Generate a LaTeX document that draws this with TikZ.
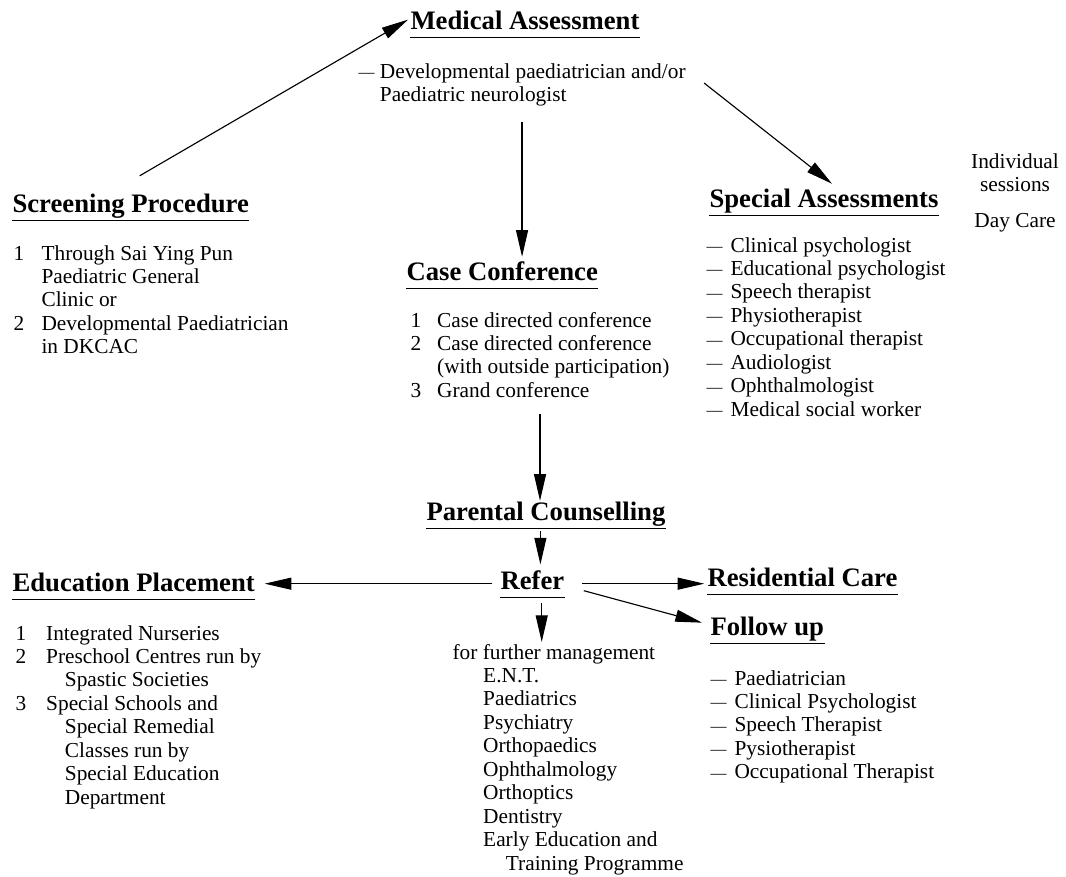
\documentclass[tikz,border=0pt]{standalone}
\usepackage{fontspec}
\setmainfont{Liberation Serif}
\usetikzlibrary{arrows.meta}

\newcommand{\ldash}{\raisebox{0.4pt}{\fontsize{12}{12}\selectfont —}}

\tikzset{
  heading/.style={font=\fontsize{20}{24}\selectfont\bfseries, inner sep=0pt,
    text height=14pt, text depth=6pt, anchor=base west},
  body/.style={font=\fontsize{16}{17.6}\selectfont, inner sep=0pt, anchor=base west},
  uline/.style={line width=1pt}
}

\begin{document}
\begin{tikzpicture}[x=0.75pt, y=-0.75pt, >={Triangle[length=20pt,width=9pt]}, line width=0.85pt]
\useasboundingbox (0,0) rectangle (1066,876);

% headings
\node[heading] (med) at (410, 29) {Medical Assessment};
\node[heading] (screen) at (12, 212) {Screening Procedure};
\node[heading] (spec) at (709, 207) {Special Assessments};
\node[heading] (case) at (406, 280) {Case Conference};
\node[heading] (parent) at (426, 520) {Parental Counselling};
\node[heading] (refer) at (500, 589) {Refer};
\node[heading] (edu) at (12, 591) {Education Placement};
\node[heading] (resid) at (707, 586) {Residential Care};
\node[heading] (follow) at (710, 635) {Follow up};

\draw[uline] (med.south west) -- (med.south east);
\draw[uline] (screen.south west) -- (screen.south east);
\draw[uline] (spec.south west) -- (spec.south east);
\draw[uline] (case.south west) -- (case.south east);
\draw[uline] (parent.south west) -- (parent.south east);
\draw[uline] (refer.south west) -- (refer.south east);
\draw[uline] (edu.south west) -- (edu.south east);
\draw[uline] (resid.south west) -- (resid.south east);
\draw[uline] (follow.south west) -- (follow.south east);

% texts under the headings
\node[body] (medbody) at (358, 78) {\begin{tabular}[t]{@{}l@{\hspace{4pt}}l@{}}
\ldash & Developmental paediatrician and/or\\
 & Paediatric neurologist
\end{tabular}};
\node[body] (screenlist) at (13, 260) {\begin{tabular}[t]{@{}l@{\hspace{13pt}}l@{}}
1 & Through Sai Ying Pun\\
 & Paediatric General\\
 & Clinic or\\
2 & Developmental Paediatrician\\
 & in DKCAC
\end{tabular}};
\node[body] (speclist) at (706, 252) {\begin{tabular}[t]{@{}l@{\hspace{6pt}}l@{}}
\ldash & Clinical psychologist\\
\ldash & Educational psychologist\\
\ldash & Speech therapist\\
\ldash & Physiotherapist\\
\ldash & Occupational therapist\\
\ldash & Audiologist\\
\ldash & Ophthalmologist\\
\ldash & Medical social worker
\end{tabular}};
\node[body, anchor=base] (indiv) at (1015, 168) {\begin{tabular}[t]{@{}c@{}}
Individual\\
sessions
\end{tabular}};
\node[body, anchor=base] (daycare) at (1015, 227) {Day Care};
\node[body] (caselist) at (410, 327) {\begin{tabular}[t]{@{}l@{\hspace{12pt}}l@{}}
1 & Case directed conference\\
2 & Case directed conference\\
 & (with outside participation)\\
3 & Grand conference
\end{tabular}};
\node[body] (edulist) at (15, 640) {\begin{tabular}[t]{@{}l@{\hspace{15pt}}l@{}}
1 & Integrated Nurseries\\
2 & Preschool Centres run by\\
 & \hspace{14pt}Spastic Societies\\
3 & Special Schools and\\
 & \hspace{14pt}Special Remedial\\
 & \hspace{14pt}Classes run by\\
 & \hspace{14pt}Special Education\\
 & \hspace{14pt}Department
\end{tabular}};
\node[body] (further) at (452, 659) {\begin{tabular}[t]{@{}l@{}}
for further management\\
\hspace{23pt}E.N.T.\\
\hspace{23pt}Paediatrics\\
\hspace{23pt}Psychiatry\\
\hspace{23pt}Orthopaedics\\
\hspace{23pt}Ophthalmology\\
\hspace{23pt}Orthoptics\\
\hspace{23pt}Dentistry\\
\hspace{23pt}Early Education and\\
\hspace{40pt}Training Programme
\end{tabular}};
\node[body] (followlist) at (710, 685) {\begin{tabular}[t]{@{}l@{\hspace{6pt}}l@{}}
\ldash & Paediatrician\\
\ldash & Clinical Psychologist\\
\ldash & Speech Therapist\\
\ldash & Pysiotherapist\\
\ldash & Occupational Therapist
\end{tabular}};

% arrows
\draw[->] ([shift={(9,-17)}]screen.north) -- ([shift={(-2,-4)}]med.west);
\draw[->] ([shift={(18,-2)}]medbody.east) -- ([shift={(8,-4)}]spec.north);
\draw[->, shorten <=10pt, shorten >=3pt] (medbody.south) -- (medbody.south |- case.north);
\draw[->, shorten <=7pt] (caselist.south) -- (caselist.south |- parent.north);
\draw[->, shorten <=2pt, shorten >=4pt] ([xshift=6]refer.north |- parent.south) -- ([xshift=6]refer.north);
\draw[->, shorten <=6pt, shorten >=7pt] (refer.west) -- (refer.west -| edu.east);
\draw[->, shorten <=13pt, shorten >=2pt] (refer.east) -- (refer.east -| resid.west);
\draw[->] ([shift={(19,7)}]refer.east) -- ([shift={(-8,-7)}]follow.west);
\draw[->, shorten <=4pt] ([xshift=7]refer.south) -- ([xshift=7]refer.south |- further.north);
\end{tikzpicture}
\end{document}
